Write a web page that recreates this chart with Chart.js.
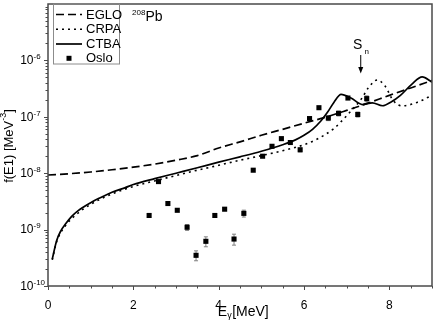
<!DOCTYPE html>
<html lang="en">
<head>
<meta charset="UTF-8">
<title>208Pb E1 strength</title>
<script src="https://cdn.jsdelivr.net/npm/chart.js"></script>
<style>
  html, body { margin: 0; padding: 0; background: #fff; }
  canvas { display: block; }
</style>
</head>
<body>
<canvas id="grafico" width="436" height="324"></canvas>
<script>
// EGLO model (dashed)
const egloE = [0, 0.5, 1, 1.5, 2, 2.5, 3, 3.5, 4, 4.5, 5, 5.5, 6, 6.5, 7, 7.5, 8, 8.5, 9];
const egloF = [9.3e-9, 9.8e-9, 1.05e-8, 1.15e-8, 1.28e-8, 1.45e-8, 1.7e-8, 2.05e-8, 2.8e-8, 3.6e-8,
               4.7e-8, 6.0e-8, 7.7e-8, 9.8e-8, 1.3e-7, 1.75e-7, 2.4e-7, 3.25e-7, 4.4e-7];

// CRPA (dotted)
const crpaE = [0.1, 0.2, 0.4, 0.7, 1, 1.5, 2, 2.5, 3, 3.5, 4, 4.5, 5, 5.5, 6, 6.3, 6.7, 7.05, 7.35, 7.5, 7.72, 7.9, 8.1, 8.3, 8.65, 9];
const crpaF = [2.9e-10, 6.0e-10, 1.15e-9, 1.95e-9, 2.8e-9, 4.3e-9, 5.8e-9, 7.3e-9, 9.1e-9, 1.13e-8, 1.38e-8, 1.7e-8,
               2.05e-8, 2.5e-8, 3.2e-8, 4.0e-8, 6.2e-8, 1.15e-7, 2.1e-7, 3.2e-7, 4.5e-7, 3.5e-7, 1.9e-7, 1.56e-7, 1.8e-7, 2.4e-7];

// CTBA (solid)
const ctbaE = [0.1, 0.2, 0.3, 0.4, 0.55, 0.7, 1, 1.2, 1.5, 1.8, 2, 2.5, 3, 3.5, 4, 4.5, 5, 5.5, 5.8, 6, 6.2, 6.4, 6.55,
               6.7, 6.87, 7.1, 7.37, 7.6, 7.84, 8.05, 8.26, 8.53, 8.77, 9];
const ctbaF = [3.0e-10, 6.3e-10, 9.5e-10, 1.23e-9, 1.7e-9, 2.15e-9, 3.0e-9, 3.6e-9, 4.6e-9, 5.5e-9, 6.3e-9, 8.0e-9,
               1.0e-8, 1.25e-8, 1.57e-8, 1.95e-8, 2.45e-8, 3.2e-8, 3.9e-8, 4.7e-8, 6.0e-8, 8.5e-8, 1.2e-7,
               1.8e-7, 2.5e-7, 2.15e-7, 1.65e-7, 1.77e-7, 1.57e-7, 1.85e-7, 2.4e-7, 3.8e-7, 5.1e-7, 4.1e-7];

// Oslo data points, with relative error (0 = no visible bar)
const osloE = [2.37, 2.59, 2.81, 3.03, 3.26, 3.47, 3.70, 3.91, 4.14, 4.36, 4.59, 4.81,
               5.03, 5.25, 5.47, 5.68, 5.91, 6.13, 6.35, 6.57, 6.81, 7.03, 7.26, 7.47];
const osloF = [1.78e-9, 7.1e-9, 2.9e-9, 2.2e-9, 1.1e-9, 3.5e-10, 6.2e-10, 1.78e-9, 2.3e-9, 6.8e-10, 1.94e-9, 1.13e-8,
               2.0e-8, 3.0e-8, 4.1e-8, 3.5e-8, 2.6e-8, 9.3e-8, 1.45e-7, 9.5e-8, 1.15e-7, 2.15e-7, 1.1e-7, 2.1e-7];
const osloErr = [0, 0, 0, 0, 0.12, 0.2, 0.2, 0, 0, 0.22, 0.14, 0,
                 0, 0, 0, 0, 0.08, 0, 0, 0.1, 0.1, 0, 0.1, 0.12];

const xTicks = [0, 2, 4, 6, 8];
const yTicks = [1e-10, 1e-9, 1e-8, 1e-7, 1e-6];

// neutron separation energy arrow
const snE = 7.33;

const fonte = '"Liberation Sans", Arial, sans-serif';

function pares(xs, ys) {
    return xs.map((v, i) => ({ x: v, y: ys[i] }));
}

// desenha eixos, legenda e textos por cima do grafico
const enfeites = {
    id: 'enfeites',
    beforeDatasetsDraw(chart) {
        const { ctx, scales: { x, y } } = chart;
        ctx.save();
        ctx.strokeStyle = '#808080';
        ctx.lineWidth = 1;
        osloE.forEach((e, i) => {
            if (!osloErr[i]) return;
            const px = x.getPixelForValue(e);
            const lo = y.getPixelForValue(osloF[i] * (1 - osloErr[i]));
            const hi = y.getPixelForValue(osloF[i] * (1 + osloErr[i]));
            ctx.beginPath();
            ctx.moveTo(px, lo); ctx.lineTo(px, hi);
            ctx.moveTo(px - 2, lo); ctx.lineTo(px + 2, lo);
            ctx.moveTo(px - 2, hi); ctx.lineTo(px + 2, hi);
            ctx.stroke();
        });
        ctx.restore();
    },
    afterDraw(chart) {
        const { ctx, chartArea: a, scales: { x, y } } = chart;
        ctx.save();

        // moldura
        ctx.strokeStyle = '#4a4a4a';
        ctx.lineWidth = 1.5;
        ctx.strokeRect(a.left, a.top, a.right - a.left, a.bottom - a.top);

        // ticks do eixo x (para fora)
        ctx.lineWidth = 1;
        for (let v = 0; v <= 9; v += 0.5) {
            const px = Math.round(x.getPixelForValue(v)) + 0.5;
            const len = (v % 2 === 0) ? 4 : 2.5;
            ctx.beginPath();
            ctx.moveTo(px, a.bottom); ctx.lineTo(px, a.bottom + len);
            ctx.stroke();
        }
        // ticks do eixo y (log, com menores)
        for (let d = -10; d < -5; d++) {
            for (let m = 1; m <= 9; m++) {
                const val = m * Math.pow(10, d);
                const py = Math.round(y.getPixelForValue(val)) + 0.5;
                const len = m === 1 ? 4 : 2.5;
                ctx.beginPath();
                ctx.moveTo(a.left, py); ctx.lineTo(a.left - len, py);
                ctx.stroke();
            }
        }

        // rotulos do eixo y: 10^n
        ctx.fillStyle = '#000';
        ctx.textBaseline = 'middle';
        yTicks.forEach(v => {
            const py = y.getPixelForValue(v);
            const exp = Math.round(Math.log10(v));
            ctx.font = '12px ' + fonte;
            ctx.textAlign = 'right';
            ctx.fillText('10', 33.5, py + 0.5);
            ctx.font = '8px ' + fonte;
            ctx.textAlign = 'left';
            ctx.fillText(String(exp), 33.5, py - 3.5);
        });

        // titulo do eixo y
        ctx.save();
        ctx.translate(9, 146);
        ctx.rotate(-Math.PI / 2);
        const t1 = 'f(E1) [MeV', t3 = ']';
        ctx.font = '9px ' + fonte;
        const w2 = ctx.measureText('-3').width;
        ctx.font = '13px ' + fonte;
        const w1 = ctx.measureText(t1).width, w3 = ctx.measureText(t3).width;
        let sx = -(w1 + w2 + w3) / 2;
        ctx.textAlign = 'left';
        ctx.fillText(t1, sx, 0);
        ctx.font = '9px ' + fonte;
        ctx.fillText('-3', sx + w1, -5);
        ctx.font = '13px ' + fonte;
        ctx.fillText(t3, sx + w1 + w2, 0);
        ctx.restore();

        // titulo do eixo x: E_gamma [MeV]
        ctx.font = '14px ' + fonte;
        const wE = ctx.measureText('E').width;
        const wM = ctx.measureText('[MeV]').width;
        ctx.font = '9px ' + fonte;
        const wg = ctx.measureText('γ').width;
        let bx = 243 - (wE + wg + wM) / 2;
        ctx.textAlign = 'left';
        ctx.font = '14px ' + fonte;
        ctx.fillText('E', bx, 312);
        ctx.font = '9px ' + fonte;
        ctx.fillText('γ', bx + wE, 316);
        ctx.font = '14px ' + fonte;
        ctx.fillText('[MeV]', bx + wE + wg + 0.5, 312);

        // 208Pb
        ctx.font = '8px ' + fonte;
        ctx.fillText('208', 132, 13);
        ctx.font = '14px ' + fonte;
        ctx.fillText('Pb', 145.5, 17.5);

        // S_n com seta
        const sx2 = x.getPixelForValue(snE);
        ctx.font = '14px ' + fonte;
        ctx.textAlign = 'center';
        ctx.fillText('S', sx2 - 3, 45.5);
        ctx.font = '8px ' + fonte;
        ctx.fillText('n', sx2 + 6, 51.5);
        ctx.strokeStyle = '#000';
        ctx.lineWidth = 1;
        ctx.beginPath();
        ctx.moveTo(sx2, 55); ctx.lineTo(sx2, 68);
        ctx.stroke();
        ctx.beginPath();
        ctx.moveTo(sx2 - 2.5, 67); ctx.lineTo(sx2 + 2.5, 67); ctx.lineTo(sx2, 73.5);
        ctx.closePath();
        ctx.fill();

        // legenda
        ctx.strokeStyle = '#8c8c8c';
        ctx.lineWidth = 1;
        ctx.strokeRect(53.5, a.top, 66, 64 - a.top);
        const linhas = [14.5, 29.3, 44, 58.3];
        ctx.font = '13px ' + fonte;
        ctx.textAlign = 'left';
        chart.data.datasets.forEach(ds => {
            const ly = linhas[ds.legendIndex];
            ctx.strokeStyle = '#000';
            if (ds.showLine === false) {
                ctx.fillRect(66.5, ly - 2.5, 5, 5);
            } else {
                ctx.lineWidth = ds.borderWidth;
                ctx.setLineDash(ds.borderDash || []);
                ctx.beginPath();
                ctx.moveTo(56, ly); ctx.lineTo(82, ly);
                ctx.stroke();
                ctx.setLineDash([]);
            }
            ctx.fillText(ds.label, 86, ly + 0.5);
        });

        ctx.restore();
    }
};

new Chart(document.getElementById('grafico'), {
    type: 'line',
    data: {
        datasets: [
            {
                label: 'Oslo', legendIndex: 3, order: 0,
                data: pares(osloE, osloF),
                showLine: false,
                pointStyle: 'rect', pointRadius: 3.6,
                pointBackgroundColor: '#000', pointBorderWidth: 0
            },
            {
                label: 'EGLO', legendIndex: 0, order: 1,
                data: pares(egloE, egloF),
                borderColor: '#000', borderWidth: 1.7, borderDash: [8, 4],
                pointRadius: 0, cubicInterpolationMode: 'monotone'
            },
            {
                label: 'CRPA', legendIndex: 1, order: 1,
                data: pares(crpaE, crpaF),
                borderColor: '#000', borderWidth: 1.6, borderDash: [2, 4],
                pointRadius: 0, cubicInterpolationMode: 'monotone'
            },
            {
                label: 'CTBA', legendIndex: 2, order: 1,
                data: pares(ctbaE, ctbaF),
                borderColor: '#000', borderWidth: 1.7,
                pointRadius: 0, cubicInterpolationMode: 'monotone'
            }
        ]
    },
    options: {
        responsive: false,
        animation: false,
        devicePixelRatio: 1,
        layout: { padding: { top: 1, right: 1, left: 0, bottom: 0 } },
        plugins: { legend: { display: false }, tooltip: { enabled: false } },
        scales: {
            x: {
                type: 'linear', min: 0, max: 9,
                grid: { display: false },
                border: { display: false },
                afterFit: s => { s.height = 38; s.paddingLeft = 0; s.paddingRight = 0; },
                afterBuildTicks: s => { s.ticks = xTicks.map(v => ({ value: v })); },
                ticks: {
                    autoSkip: false, maxRotation: 0, padding: 4,
                    color: '#000', font: { family: fonte, size: 12 }
                }
            },
            y: {
                type: 'logarithmic', min: 1e-10, max: 1e-5,
                grid: { display: false },
                border: { display: false },
                ticks: { display: false },
                afterFit: s => { s.width = 48; s.paddingTop = 0; s.paddingBottom = 0; }
            }
        }
    },
    plugins: [enfeites]
});
</script>
</body>
</html>
